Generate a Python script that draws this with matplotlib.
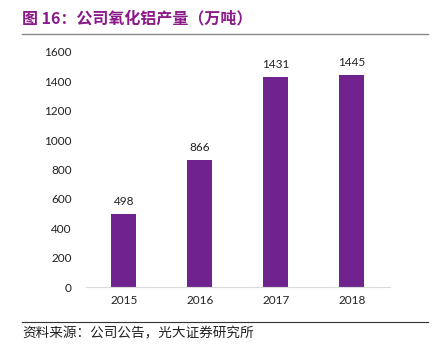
#Bar chart of company alumina output.
import matplotlib
matplotlib.use("Agg")
import matplotlib.pyplot as plt
from matplotlib.lines import Line2D

#Fonts: CJK family first, fall back to DejaVu for anything missing.
plt.rcParams['font.family'] = ['Noto Sans CJK SC', 'DejaVu Sans']

#Data.
years = ['2015', '2016', '2017', '2018']
output = [498, 866, 1431, 1445]
yticks = [0, 200, 400, 600, 800, 1000, 1200, 1400, 1600]

bar_color = '#70238F'
title_color = '#8B1A89'

fig = plt.figure(figsize=(4.4, 3.58), dpi=100)
ax = fig.add_axes([0.195, 0.198, 0.691, 0.657])

x = range(len(years))
bars = ax.bar(x, output, width=0.33, color=bar_color, zorder=2)

#Value labels above each bar.
for xi, v in zip(x, output):
    ax.text(xi, v + 45, str(v), ha='center', va='bottom', fontsize=8.5,
            family=['Lato', 'DejaVu Sans'], color='#222222')

ax.set_xlim(-0.5, len(years) - 0.5)
ax.set_ylim(0, 1600)
ax.set_xticks(list(x))
ax.set_xticklabels(years, family=['Lato', 'DejaVu Sans'], fontsize=8.5)
ax.set_yticks(yticks)
ax.set_yticklabels([str(t) for t in yticks], family=['Lato', 'DejaVu Sans'], fontsize=8.5)
ax.tick_params(length=0, pad=10, colors='#222222')
ax.tick_params(axis='x', pad=6)

for side in ['top', 'right', 'left']:
    ax.spines[side].set_visible(False)
ax.spines['bottom'].set_color('#D9D9D9')
ax.spines['bottom'].set_linewidth(0.8)

#Title and separator lines.
fig.text(0.05, 0.949, '图 16：公司氧化铝产量（万吨）', fontsize=11.5, fontweight='bold',
         color=title_color, va='center', ha='left')
fig.add_artist(Line2D([0.05, 0.973], [0.905, 0.905], color='#888888', lw=1.0))
fig.add_artist(Line2D([0.05, 0.973], [0.101, 0.101], color='#333333', lw=0.8))
fig.text(0.05, 0.07, '资料来源：公司公告，光大证券研究所', fontsize=9.8,
         color='#222222', va='center', ha='left')

plt.savefig('out.png', dpi=100)
